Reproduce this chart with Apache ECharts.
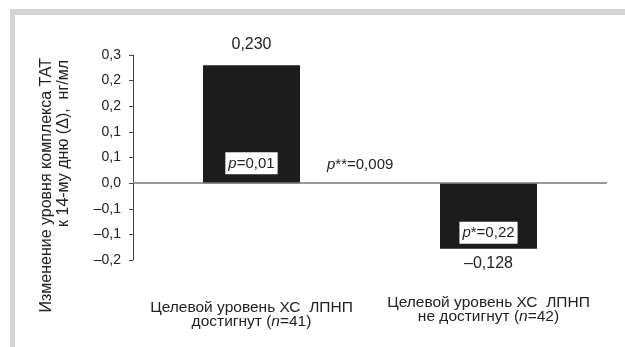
<!DOCTYPE html>
<html>
<head>
<meta charset="utf-8">
<script src="https://cdn.jsdelivr.net/npm/echarts@6/dist/echarts.min.js"></script>
<style>
html,body{margin:0;padding:0;background:#fff;}
#chart{width:625px;height:347px;}
</style>
</head>
<body>
<div id="chart"></div>
<script>
// ---- data ----
const categories = ['Целевой уровень ХС  ЛПНП\nдостигнут (n=41)', 'Целевой уровень ХС  ЛПНП\nне достигнут (n=42)'];
const values = [0.230, -0.128];
const valueLabels = ['0,230', '–0,128'];
const pLabels = ['p=0,01', 'p*=0,22'];
const pBetween = 'p**=0,009';
const yMin = -0.15, yMax = 0.25, yStep = 0.05;
const yTickLabels = ['–0,2', '–0,1', '–0,1', '0,0', '0,1', '0,1', '0,2', '0,2', '0,3'];
const yTitle = ['Изменение уровня комплекса ТАТ', 'к 14-му дню (Δ),  нг/мл'];

const FONT = 'Liberation Sans, Arial, sans-serif';
const TXT = '#222';

function italP(s) { return '{i|p}{n|' + s.slice(1) + '}'; }

const chart = echarts.init(document.getElementById('chart'), null, {renderer: 'canvas'});
chart.setOption({
  animation: false,
  backgroundColor: '#fff',
  textStyle: {fontFamily: FONT},
  grid: {left: 133, right: 18, top: 55, bottom: 87},
  xAxis: {
    type: 'category',
    data: categories.map(function (c, i) {
      return i === 0 ? {value: c, textStyle: {padding: [5, 0, 0, 0]}} : {value: c};
    }),
    axisLine: {show: false, onZero: false},
    axisTick: {show: false},
    axisLabel: {
      margin: 35,
      interval: 0,
      color: TXT,
      fontFamily: FONT,
      fontSize: 15.5,
      lineHeight: 14.5,
      formatter: function (v) { return v.replace('(n=', '({i|n}='); },
      rich: {i: {fontStyle: 'italic', fontSize: 15.5, lineHeight: 14.5, color: TXT, fontFamily: FONT}}
    }
  },
  yAxis: {
    type: 'value',
    min: yMin, max: yMax, interval: yStep,
    axisLine: {show: true, lineStyle: {color: '#444', width: 1}},
    axisTick: {show: true, length: 4, lineStyle: {color: '#444'}},
    splitLine: {show: false},
    axisLabel: {
      margin: 12,
      color: TXT,
      fontFamily: FONT,
      fontSize: 14,
      formatter: function (v) { return yTickLabels[Math.round((v - yMin) / yStep)]; }
    }
  },
  series: [
    {
      type: 'bar',
      barWidth: 97,
      itemStyle: {color: '#1c1c1c'},
      data: values.map(function (v, i) {
        return {value: v, label: {position: v >= 0 ? 'top' : 'bottom', distance: v >= 0 ? 13 : 7}};
      }),
      label: {
        show: true,
        color: TXT,
        fontFamily: FONT,
        fontSize: 16,
        formatter: function (p) { return valueLabels[p.dataIndex]; }
      },
      markLine: {
        silent: true,
        symbol: 'none',
        label: {show: false},
        lineStyle: {color: '#777', width: 1.5, type: 'solid'},
        data: [{yAxis: 0}]
      },
      z: 2
    },
    {
      type: 'bar',
      barWidth: 97,
      barGap: '-100%',
      silent: true,
      itemStyle: {color: 'rgba(0,0,0,0)'},
      data: values.map(function (v) {
        return {value: v, label: {position: 'insideBottom', distance: v >= 0 ? 9 : 5}};
      }),
      label: {
        show: true,
        backgroundColor: '#fff',
        padding: [4, 3, 3, 3],
        color: TXT,
        fontFamily: FONT,
        fontSize: 15,
        formatter: function (p) { return italP(pLabels[p.dataIndex]); },
        rich: {
          i: {fontStyle: 'italic', fontSize: 15, color: TXT, fontFamily: FONT},
          n: {fontSize: 15, color: TXT, fontFamily: FONT}
        }
      },
      z: 3
    }
  ],
  graphic: [
    {type: 'rect', shape: {x: 10, y: 9, width: 615, height: 6}, style: {fill: '#d4d4d4'}, silent: true},
    {type: 'rect', shape: {x: 10, y: 9, width: 5, height: 338}, style: {fill: '#d4d4d4'}, silent: true},
    {
      type: 'text', x: 327, y: 165,
      style: {
        text: italP(pBetween), fill: TXT, font: '15px ' + FONT, verticalAlign: 'middle',
        rich: {i: {fontStyle: 'italic', fontSize: 15, fill: TXT, fontFamily: FONT}, n: {fontSize: 15, fill: TXT, fontFamily: FONT}}
      }
    },
    {
      type: 'text', x: 47, y: 58, rotation: Math.PI / 2,
      style: {text: yTitle[0], fill: TXT, font: '16px ' + FONT, align: 'right', verticalAlign: 'middle'}
    },
    {
      type: 'text', x: 64, y: 60, rotation: Math.PI / 2,
      style: {text: yTitle[1], fill: TXT, font: '16px ' + FONT, align: 'right', verticalAlign: 'middle'}
    }
  ]
});
</script>
</body>
</html>
